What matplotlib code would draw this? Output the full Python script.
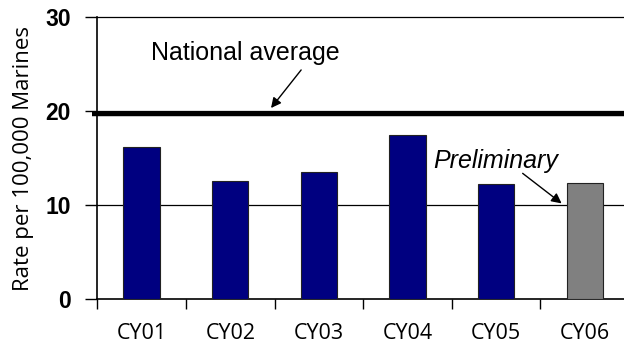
import matplotlib
matplotlib.use("Agg")
import matplotlib.pyplot as plt

categories = ["CY01", "CY02", "CY03", "CY04", "CY05", "CY06"]
rates = [16.2, 12.6, 13.5, 17.5, 12.3, 12.4]
colors = ["#000080", "#000080", "#000080", "#000080", "#000080", "#808080"]
national_average = 19.7
yticks = [0, 10, 20, 30]

fig = plt.figure(figsize=(6.24, 3.49), dpi=100)
ax = fig.add_axes([0.156, 0.1424, 0.852, 0.808])

x = list(range(len(categories)))
ax.bar(x, rates, width=0.41, color=colors, edgecolor="#222222", linewidth=0.8, zorder=3)

ax.set_xlim(-0.5, len(categories) - 0.5)
ax.set_ylim(0, 30)
ax.set_yticks(yticks)
ax.set_yticklabels([str(v) for v in yticks], fontsize=16.5, fontweight="bold",
                   family="Liberation Sans")
for v in yticks[1:]:
    ax.axhline(v, color="black", lw=0.9, zorder=1, clip_on=False)

# national average line
ax.plot([-0.56, len(categories) - 0.5], [national_average, national_average],
        color="black", lw=3.2, solid_capstyle="butt", clip_on=False, zorder=4)

ax.set_xticks([i - 0.5 for i in range(len(categories) + 1)], minor=False)
ax.set_xticklabels([])
ax.set_xticks(x, minor=True)
ax.set_xticklabels(categories, minor=True, fontsize=15.5, family="Open Sans")
ax.tick_params(axis="x", which="minor", length=0, pad=17)
ax.tick_params(axis="x", which="major", length=7, width=1, direction="out")
ax.tick_params(axis="y", length=9, width=1, direction="out", pad=10)

for s in ["top", "right"]:
    ax.spines[s].set_visible(False)
ax.spines["left"].set_linewidth(1.2)
ax.spines["bottom"].set_linewidth(1.2)

ax.set_ylabel("Rate per 100,000 Marines", fontsize=16, family="Open Sans")
ax.yaxis.set_label_coords(-0.12, 0.5)

ax.text(1.17, 26.2, "National average", fontsize=18, family="Liberation Sans",
        ha="center", va="center", zorder=5)
ax.annotate("", xy=(1.46, 20.35), xytext=(1.80, 24.4),
            arrowprops=dict(arrowstyle="-|>", color="black", lw=1, mutation_scale=15,
                            shrinkA=0, shrinkB=0), zorder=5)
ax.text(4.0, 14.7, "Preliminary", fontsize=18, family="Liberation Sans", style="italic",
        ha="center", va="center", zorder=5)
ax.annotate("", xy=(4.74, 10.2), xytext=(4.30, 13.4),
            arrowprops=dict(arrowstyle="-|>", color="black", lw=1, mutation_scale=15,
                            shrinkA=0, shrinkB=0), zorder=5)

fig.savefig("out.png", dpi=100)
